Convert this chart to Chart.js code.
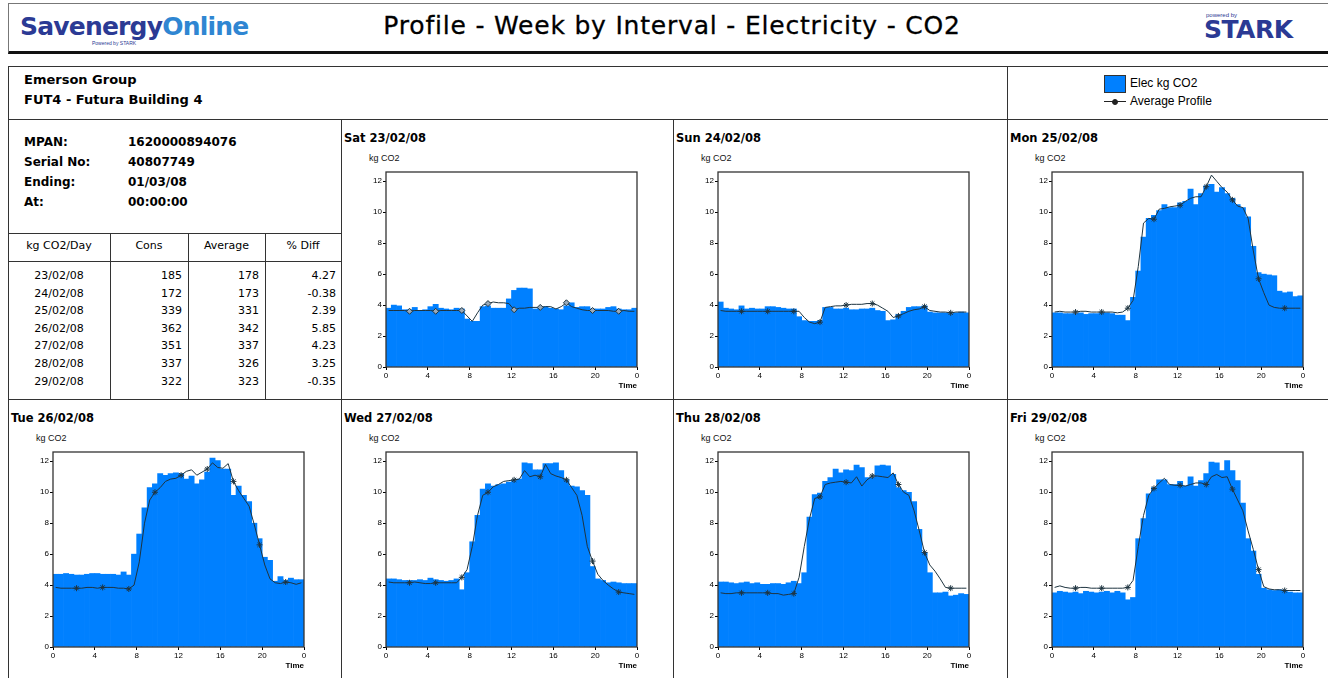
<!DOCTYPE html>
<html>
<head>
<meta charset="utf-8">
<script src="https://cdn.jsdelivr.net/npm/chart.js@4.4.1/dist/chart.umd.min.js"></script>
<style>
body { margin: 0; width: 1328px; height: 678px; overflow: hidden; position: relative; background: #fff; font-family: "DejaVu Sans", Verdana, sans-serif; color: #000; }
.a { position: absolute; white-space: nowrap; }
.h { position: absolute; height: 0; border-top: 1.5px solid #333; }
.v { position: absolute; width: 0; border-left: 1.5px solid #333; }
.ptitle { position: absolute; font-weight: bold; font-size: 11.5px; }
.unit { position: absolute; font-family: "Liberation Sans", Arial, sans-serif; font-size: 9px; color: #111; }
canvas { position: absolute; }
</style>
</head>
<body>

<script>
// half-hour consumption (kg CO2) and average profile, one pair per day
const satCons = [3.8,4.0,3.95,3.7,3.7,3.85,3.6,3.7,3.9,4.05,3.8,3.75,3.7,3.8,3.75,3.1,2.95,2.95,3.9,3.95,3.8,3.8,3.8,4.4,4.95,5.1,5.1,5.05,3.75,3.85,3.9,3.8,3.75,3.7,3.95,4.15,3.85,3.9,3.9,3.75,3.75,3.75,3.85,3.9,3.75,3.7,3.7,3.8];
const satAvg  = [3.65,3.65,3.65,3.65,3.6,3.65,3.65,3.65,3.65,3.6,3.65,3.65,3.65,3.65,3.65,3.3,2.95,3.5,4.0,4.1,4.2,4.15,4.15,4.1,3.7,3.8,3.8,3.85,3.85,3.85,3.9,3.9,3.75,3.9,4.15,3.9,3.8,3.7,3.65,3.65,3.65,3.65,3.65,3.6,3.6,3.65,3.6,3.6];
const sunCons = [4.2,3.8,3.75,3.7,3.95,3.75,3.8,3.75,3.75,3.9,3.9,3.85,3.8,3.75,3.75,3.25,3.0,2.95,2.95,3.0,3.85,3.85,3.75,3.75,3.8,3.7,3.7,3.75,3.75,3.8,3.65,3.6,3.0,3.05,3.4,3.6,3.85,3.9,3.9,3.95,3.55,3.5,3.5,3.5,3.45,3.5,3.55,3.5];
const sunAvg  = [3.65,3.6,3.6,3.6,3.6,3.6,3.6,3.6,3.6,3.6,3.6,3.6,3.6,3.6,3.6,3.6,3.2,2.9,2.8,2.9,3.85,3.9,3.95,3.95,4.0,4.05,4.05,4.05,4.1,4.1,4.0,3.8,3.6,3.2,3.3,3.45,3.6,3.7,3.75,3.9,3.65,3.6,3.55,3.55,3.5,3.55,3.55,3.55];
const monCons = [3.5,3.5,3.45,3.45,3.45,3.5,3.4,3.45,3.45,3.5,3.5,3.45,3.35,3.35,3.0,4.5,6.2,8.4,9.6,9.8,10.1,10.5,10.3,10.3,10.6,10.7,11.5,10.5,11.2,11.7,11.8,11.3,11.6,11.2,10.9,10.5,10.3,9.7,7.8,6.1,6.0,5.95,5.9,4.9,4.8,4.85,4.55,4.6];
const monAvg  = [3.55,3.6,3.55,3.55,3.55,3.6,3.6,3.55,3.55,3.55,3.55,3.55,3.5,3.55,3.8,4.3,6.5,9.3,9.6,9.55,10.2,10.25,10.35,10.4,10.45,10.7,10.9,11.0,11.0,11.65,12.4,12.0,11.6,11.3,10.8,10.4,10.3,9.6,7.5,5.7,4.8,4.0,3.85,3.8,3.8,3.8,3.8,3.8];
const tueCons = [4.7,4.7,4.75,4.7,4.65,4.65,4.7,4.75,4.75,4.7,4.7,4.7,4.65,4.85,4.65,6.0,7.3,9.0,10.3,10.55,11.2,11.1,11.2,11.25,11.2,10.85,11.05,10.55,10.8,11.3,12.2,12.05,11.5,11.5,9.8,10.4,9.8,9.4,8.0,7.0,5.8,5.6,4.25,4.55,4.3,4.45,4.35,4.35];
const tueAvg  = [3.85,3.8,3.8,3.8,3.8,3.8,3.85,3.85,3.8,3.85,3.85,3.85,3.8,3.8,3.75,4.0,5.5,8.0,9.5,10.0,10.3,10.7,10.85,10.9,11.1,11.35,11.45,11.1,11.3,11.5,11.9,11.6,11.55,11.85,10.7,10.1,9.6,9.1,7.9,6.6,5.3,4.4,4.15,4.1,4.2,4.15,4.05,4.15];
const wedCons = [4.4,4.4,4.35,4.3,4.3,4.3,4.35,4.3,4.45,4.35,4.3,4.25,4.3,4.4,3.7,4.8,6.8,8.5,10.2,10.55,10.4,10.5,10.55,10.65,10.75,10.85,11.9,11.85,11.45,11.45,11.85,11.85,11.9,11.4,10.8,10.4,10.35,10.1,9.8,5.2,4.4,4.3,4.15,4.2,4.15,4.1,4.1,4.1];
const wedAvg  = [4.2,4.15,4.15,4.15,4.15,4.2,4.15,4.1,4.1,4.15,4.15,4.15,4.15,4.15,4.5,5.0,6.5,8.5,9.8,10.0,10.35,10.5,10.7,10.75,10.8,10.85,11.4,11.0,11.1,11.0,11.8,11.2,11.05,10.95,10.8,10.3,9.8,8.5,6.5,5.55,4.7,4.3,4.0,3.75,3.55,3.5,3.45,3.4];
const thuCons = [4.2,4.2,4.15,4.1,4.15,4.2,4.1,4.15,4.05,4.05,4.1,4.1,4.05,4.15,4.25,4.1,4.8,8.4,9.85,9.95,10.7,10.95,11.5,11.25,11.45,11.4,11.75,11.6,10.95,10.95,11.7,11.75,11.7,11.15,10.3,10.1,10.0,9.4,7.6,6.1,4.8,3.5,3.5,3.55,3.3,3.35,3.45,3.4];
const thuAvg  = [3.5,3.45,3.45,3.5,3.5,3.5,3.5,3.5,3.5,3.5,3.45,3.45,3.35,3.4,3.45,4.5,6.5,8.3,9.6,9.7,10.5,10.6,10.65,10.7,10.65,10.6,11.0,10.4,10.8,11.05,11.05,11.0,10.95,11.25,10.5,10.0,9.8,8.8,7.5,6.1,5.3,4.9,4.4,3.85,3.8,3.8,3.8,3.8];
const friCons = [3.5,3.6,3.55,3.5,3.55,3.45,3.6,3.55,3.5,3.55,3.6,3.5,3.6,3.5,3.05,3.2,7.0,8.3,9.9,10.3,10.8,10.8,10.5,10.5,10.7,10.4,11.0,10.4,10.75,11.2,11.95,11.9,11.4,12.05,11.4,10.75,9.3,7.0,6.2,4.7,3.8,3.7,3.65,3.7,3.6,3.55,3.5,3.5];
const friAvg  = [3.85,3.95,3.85,3.8,3.8,3.85,3.85,3.8,3.8,3.8,3.8,3.8,3.8,3.8,3.85,4.3,6.5,8.5,9.8,10.25,10.6,10.9,10.5,10.45,10.45,10.4,10.5,10.6,10.6,10.5,11.0,11.15,10.95,11.0,10.2,9.5,8.8,7.5,6.3,5.0,3.9,3.75,3.7,3.7,3.65,3.65,3.65,3.65];

const dayTitles = ['Sat 23/02/08','Sun 24/02/08','Mon 25/02/08','Tue 26/02/08','Wed 27/02/08','Thu 28/02/08','Fri 29/02/08'];
const tblDates = ['23/02/08','24/02/08','25/02/08','26/02/08','27/02/08','28/02/08','29/02/08'];
const tblCons  = [185,172,339,362,351,337,322];
const tblAvg   = [178,173,331,342,337,326,323];
const tblDiff  = ['4.27','-0.38','2.39','5.85','4.23','3.25','-0.35'];
const xTicks = [0,4,8,12,16,20,24];
</script>

<!-- header -->
<div class="a" style="left:8px;top:3px;width:1330px;height:47px;border:1px solid #777;border-bottom:3px solid #111;"></div>
<div class="a" style="left:20px;top:12px;font-family:'DejaVu Sans';font-weight:bold;font-size:25px;letter-spacing:-0.8px;"><span style="color:#2b3a94">Savenergy</span><span style="color:#2f86d2">Online</span></div>
<div class="a" style="left:92px;top:40px;font-family:'Liberation Sans';font-size:5px;color:#2b3a94;">Powered by STARK</div>
<div class="a" style="left:0;width:1344px;top:11px;text-align:center;font-family:'DejaVu Sans';font-size:25px;letter-spacing:0.8px;-webkit-text-stroke:0.3px #000;">Profile - Week by Interval - Electricity - CO2</div>
<div class="a" style="left:1206px;top:12px;font-family:'Liberation Sans';font-size:6px;color:#2b3a94;">powered by</div>
<div class="a" style="left:1204px;top:15px;font-family:'DejaVu Sans';font-weight:bold;font-size:25px;color:#2b3a94;letter-spacing:-0.5px;">STARK</div>

<!-- frame -->
<div class="a" style="left:8px;top:66px;width:1340px;height:640px;border:1.5px solid #333;"></div>
<div class="h" style="left:8px;top:119px;width:1330px;"></div>
<div class="h" style="left:8px;top:399px;width:1330px;"></div>
<div class="v" style="left:1007px;top:66px;height:620px;"></div>
<div class="v" style="left:341px;top:119px;height:570px;"></div>
<div class="v" style="left:673px;top:119px;height:570px;"></div>
<div class="h" style="left:8px;top:233px;width:333px;"></div>
<div class="h" style="left:8px;top:261px;width:333px;"></div>
<div class="v" style="left:110px;top:233px;height:166px;"></div>
<div class="v" style="left:188px;top:233px;height:166px;"></div>
<div class="v" style="left:265px;top:233px;height:166px;"></div>

<!-- site info -->
<div class="a" style="left:24px;top:72px;font-weight:bold;font-size:13px;">Emerson Group</div>
<div class="a" style="left:24px;top:92px;font-weight:bold;font-size:13px;">FUT4 - Futura Building 4</div>
<div class="a" style="left:24px;top:132px;font-weight:bold;font-size:12px;line-height:20px;">MPAN:<br>Serial No:<br>Ending:<br>At:</div>
<div class="a" style="left:128px;top:132px;font-weight:bold;font-size:12px;line-height:20px;">1620000894076<br>40807749<br>01/03/08<br>00:00:00</div>
<div class="a" style="left:8px;width:102px;top:239px;text-align:center;font-size:11px;">kg CO2/Day</div>
<div class="a" style="left:110px;width:78px;top:239px;text-align:center;font-size:11px;">Cons</div>
<div class="a" style="left:188px;width:77px;top:239px;text-align:center;font-size:11px;">Average</div>
<div class="a" style="left:265px;width:76px;top:239px;text-align:center;font-size:11px;">% Diff</div>
<div id="tbl"></div>

<!-- legend -->
<div class="a" style="left:1104px;top:75px;width:20px;height:16px;background:#0080ff;border:1px solid #333;"></div>
<div class="a" style="left:1130px;top:76px;font-family:'Liberation Sans';font-size:12px;">Elec kg CO2</div>
<div class="a" style="left:1104px;top:101px;width:22px;border-top:1px solid #222;"></div>
<div class="a" style="left:1112px;top:99px;width:4px;height:4px;border-radius:3px;border:1px solid #222;background:#222;"></div>
<div class="a" style="left:1130px;top:94px;font-family:'Liberation Sans';font-size:12px;">Average Profile</div>

<div id="panels"></div>

<script>
const tbl = document.getElementById('tbl');
tblDates.forEach((d, i) => {
  const y = 269 + i * 17.6;
  tbl.insertAdjacentHTML('beforeend',
    `<div class="a" style="left:8px;width:102px;top:${y}px;text-align:center;font-size:11px;">${d}</div>` +
    `<div class="a" style="left:110px;width:72px;top:${y}px;text-align:right;font-size:11px;">${tblCons[i]}</div>` +
    `<div class="a" style="left:188px;width:71px;top:${y}px;text-align:right;font-size:11px;">${tblAvg[i]}</div>` +
    `<div class="a" style="left:265px;width:71px;top:${y}px;text-align:right;font-size:11px;">${tblDiff[i]}</div>`);
});

const panelPos = [[341,119],[673,119],[1007,119],[8,399],[341,399],[673,399],[1007,399]];
const consSets = [satCons, sunCons, monCons, tueCons, wedCons, thuCons, friCons];
const avgSets = [satAvg, sunAvg, monAvg, tueAvg, wedAvg, thuAvg, friAvg];

const framePlugin = {
  id: 'frame',
  afterDraw(chart) {
    const a = chart.chartArea, ctx = chart.ctx;
    ctx.save();
    ctx.strokeStyle = '#333';
    ctx.lineWidth = 1.3;
    ctx.strokeRect(a.left, a.top, a.right - a.left, a.bottom - a.top);
    ctx.restore();
  }
};

const tickFont = { family: 'Liberation Sans', size: 8 };
const panels = document.getElementById('panels');

dayTitles.forEach((title, k) => {
  const [px, py] = panelPos[k];
  panels.insertAdjacentHTML('beforeend',
    `<div class="ptitle" style="left:${px + 3}px;top:${py + 12}px;">${title}</div>` +
    `<div class="unit" style="left:${px + 28}px;top:${py + 34}px;">kg CO2</div>` +
    `<canvas id="c${k}" width="305" height="232" style="left:${px + 1}px;top:${py + 40}px;"></canvas>`);
});

dayTitles.forEach((title, k) => {
  const cons = consSets[k].map((v, i) => ({ x: i * 0.5 + 0.25, y: v }));
  const avg = avgSets[k].map((v, i) => ({ x: i * 0.5 + 0.25, y: v }));
  new Chart(document.getElementById('c' + k), {
    type: 'bar',
    data: {
      datasets: [
        {
          type: 'line',
          label: 'Average Profile',
          data: avg,
          order: 0,
          borderColor: '#1e3440',
          borderWidth: 1,
          tension: 0,
          pointStyle: k === 0 ? 'rectRot' : 'star',
          pointRadius: ctx => (ctx.dataIndex % 5 === 4 ? 3 : 0),
          pointBorderColor: '#1e3440',
          pointBackgroundColor: k === 0 ? '#9ab' : '#1e3440',
          pointBorderWidth: 1
        },
        {
          label: 'Elec kg CO2',
          data: cons,
          order: 1,
          backgroundColor: '#0080ff',
          borderWidth: 0,
          barPercentage: 1,
          categoryPercentage: 1,
          grouped: false
        }
      ]
    },
    options: {
      responsive: false,
      animation: false,
      layout: { padding: { top: 13, right: 10, left: 0, bottom: 0 } },
      plugins: { legend: { display: false }, tooltip: { enabled: false } },
      scales: {
        x: {
          type: 'linear',
          offset: false,
          min: 0,
          max: 24,
          afterBuildTicks: s => { s.ticks = xTicks.map(v => ({ value: v })); },
          afterFit: s => { s.height = 24; },
          ticks: { font: tickFont, color: '#000', padding: 1, maxRotation: 0, callback: v => (v === 24 ? '0' : v) },
          grid: { display: true, offset: false, drawOnChartArea: false, tickLength: 3, color: '#000' },
          border: { display: false },
          title: { display: true, text: 'Time', align: 'end', padding: 0, color: '#000', font: { family: 'Liberation Sans', size: 8, weight: 'bold' } }
        },
        y: {
          min: 0,
          max: 12.6,
          afterBuildTicks: s => { s.ticks = [0, 2, 4, 6, 8, 10, 12].map(v => ({ value: v })); },
          afterFit: s => { s.width = 44; },
          ticks: { font: tickFont, color: '#000', padding: 1 },
          grid: { display: true, drawOnChartArea: false, tickLength: 3, color: '#000' },
          border: { display: false }
        }
      }
    },
    plugins: [framePlugin]
  });
});
</script>
</body>
</html>
